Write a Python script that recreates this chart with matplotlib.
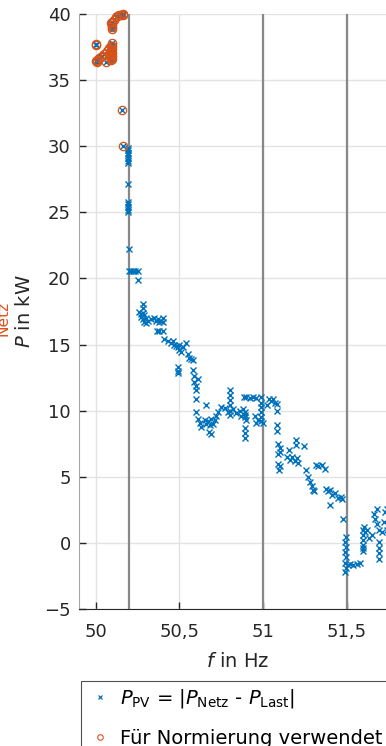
import matplotlib.pyplot as plt
from matplotlib.lines import Line2D
from matplotlib.ticker import FuncFormatter

plt.rcParams['font.family'] = ['DejaVu Sans']
plt.rcParams['mathtext.fontset'] = 'dejavusans'

# points used for normalisation (top of the curve)
norm_f = [50.00, 50.00, 50.00, 50.01, 50.01, 50.02, 50.03, 50.04, 50.05, 50.06,
          50.07, 50.08, 50.08, 50.09, 50.09, 50.09, 50.09, 50.09, 50.10, 50.10,
          50.10, 50.10, 50.10, 50.10, 50.09, 50.08, 50.095, 50.09, 50.095, 50.10,
          50.10, 50.11, 50.12, 50.13, 50.14, 50.15, 50.16, 50.165, 50.155, 50.16]
norm_p = [37.75, 37.65, 36.45, 36.55, 36.40, 36.65, 36.75, 36.85, 37.00, 36.40,
          37.20, 37.40, 37.00, 36.70, 36.90, 37.10, 37.30, 37.55, 37.80, 37.60,
          37.35, 37.05, 36.80, 36.60, 36.55, 36.85, 39.20, 39.30, 38.85, 39.05,
          39.40, 39.55, 39.75, 39.85, 39.90, 39.95, 39.90, 40.00, 32.75, 30.00]

# remaining measured points P_PV over f
rest_f = [50.19, 50.195, 50.19, 50.195, 50.19, 50.19, 50.195, 50.19, 50.19, 50.195,
          50.19, 50.195, 50.19, 50.20, 50.20, 50.21, 50.22, 50.235, 50.25, 50.255,
          50.285, 50.285, 50.26, 50.27, 50.27, 50.28, 50.29, 50.29, 50.30, 50.31,
          50.28, 50.30, 50.33, 50.35, 50.36, 50.37, 50.38, 50.39, 50.40, 50.40,
          50.365, 50.38, 50.40, 50.41, 50.43, 50.45, 50.46, 50.47, 50.48, 50.49,
          50.50, 50.50, 50.51, 50.52, 50.54, 50.55, 50.56, 50.57, 50.58, 50.49,
          50.49, 50.49, 50.58, 50.585, 50.59, 50.60, 50.60, 50.61, 50.60, 50.66,
          50.60, 50.61, 50.62, 50.63, 50.65, 50.66, 50.67, 50.68, 50.69, 50.70,
          50.71, 50.72, 50.73, 50.675, 50.69, 50.75, 50.80, 50.80, 50.80, 50.80,
          50.80, 50.80, 50.77, 50.79, 50.82, 50.84, 50.86, 50.87, 50.89, 50.89,
          50.89, 50.89, 50.89, 50.885, 50.90, 50.92, 50.94, 50.955, 50.88, 50.89,
          50.90, 50.95, 50.97, 50.96, 50.99, 50.99, 50.99, 50.99, 50.99, 50.99,
          51.00, 51.025, 51.035, 51.05, 51.06, 51.07, 51.085, 51.086, 51.086, 51.086,
          51.09, 51.10, 51.10, 51.09, 51.09, 51.10, 51.095, 51.155, 51.14, 51.16,
          51.17, 51.19, 51.20, 51.21, 51.195, 51.195, 51.245, 51.255, 51.315, 51.33,
          51.35, 51.37, 51.27, 51.28, 51.29, 51.30, 51.305, 51.375, 51.39, 51.40,
          51.41, 51.43, 51.445, 51.40, 51.465, 51.47, 51.475, 51.495, 51.49, 51.495,
          51.49, 51.495, 51.49, 51.495, 51.49, 51.505, 51.52, 51.54, 51.56, 51.58,
          51.595, 51.595, 51.595, 51.595, 51.595, 51.595, 51.60, 51.61, 51.62, 51.63,
          51.65, 51.66, 51.67, 51.68, 51.69, 51.71, 51.68, 51.69, 51.69, 51.69,
          51.69, 51.72, 51.73, 51.74, 51.74]
rest_p = [29.9, 29.7, 29.5, 29.3, 29.1, 28.9, 28.7, 27.15, 25.75, 25.6,
          25.4, 25.2, 25.0, 22.2, 20.6, 20.6, 20.6, 20.6, 20.6, 19.85,
          18.1, 17.8, 17.5, 17.3, 17.1, 16.9, 17.2, 16.7, 17.0, 16.8,
          17.4, 16.65, 16.9, 17.0, 16.8, 16.9, 16.7, 16.8, 17.0, 16.7,
          16.0, 16.0, 16.0, 15.4, 15.3, 15.1, 15.3, 15.0, 14.9, 14.8,
          15.0, 14.6, 14.4, 14.8, 15.1, 14.3, 14.0, 13.9, 13.8, 13.3,
          13.0, 12.85, 13.1, 12.6, 12.2, 11.9, 11.6, 12.4, 10.85, 10.45,
          9.9, 9.4, 9.1, 8.8, 9.3, 9.0, 9.2, 8.9, 9.4, 9.0,
          9.3, 9.6, 9.9, 8.4, 8.2, 10.3, 11.6, 11.2, 10.8, 10.4,
          10.0, 9.7, 10.2, 9.9, 10.1, 9.8, 10.0, 9.6, 9.5, 9.9,
          8.7, 8.3, 7.9, 11.0, 11.0, 10.95, 11.0, 10.95, 10.1, 9.7,
          9.3, 9.6, 9.3, 9.1, 11.0, 10.6, 10.3, 9.9, 9.5, 9.2,
          9.1, 10.45, 10.85, 10.7, 10.9, 10.6, 10.5, 9.95, 8.95, 8.45,
          7.45, 7.2, 6.9, 6.75, 6.0, 5.8, 5.55, 7.05, 6.5, 6.3,
          6.5, 6.2, 6.4, 6.05, 7.8, 7.4, 7.3, 5.55, 5.9, 5.8,
          5.9, 5.6, 5.0, 4.6, 4.3, 4.0, 3.9, 4.1, 3.9, 4.0,
          3.6, 3.8, 3.4, 2.85, 3.5, 3.3, 1.8, 0.45, 0.1, -0.3,
          -0.7, -1.1, -1.5, -1.9, -2.2, -1.7, -1.6, -1.7, -1.6, -1.5,
          1.0, 0.6, 0.2, -0.15, -0.4, -0.65, 1.2, 0.8, 1.0, 0.35,
          0.6, 2.2, 1.8, 1.4, 1.0, 0.85, 2.6, 0.1, -0.4, -0.8,
          -1.2, 1.6, 2.3, 2.6, 1.0]

pv_f = norm_f + rest_f
pv_p = norm_p + rest_p

marker_f = [50.2, 51.0, 51.5]
xticks = [50, 50.5, 51, 51.5]
yticks = list(range(-5, 41, 5))

blue = '#0072BD'
orange = '#D95319'
dark = '#262626'
fs_tick = 13
fs = 14

fig = plt.figure(figsize=(3.86, 7.46), dpi=100)
ax = fig.add_axes([79 / 386, 137 / 746, 318 / 386, 595 / 746])

for f in marker_f:
    ax.axvline(f, color='#888888', lw=1.6, zorder=1)

ax.plot(pv_f, pv_p, 'x', color=blue, ms=4.8, mew=1.0, zorder=3, clip_on=False)
ax.plot(norm_f, norm_p, 'o', mfc='none', mec=orange, ms=6, mew=0.9, zorder=4,
        clip_on=False)

ax.set_xlim(49.9, 51.8)
ax.set_ylim(-5, 40)
ax.set_xticks(xticks)
ax.set_yticks(yticks)
ax.xaxis.set_major_formatter(FuncFormatter(lambda v, p: ('%g' % v).replace('.', ',')))
ax.grid(True, color='#e3e3e3', lw=1.0)
ax.set_axisbelow(True)

ax.spines['top'].set_visible(False)
ax.spines['right'].set_visible(False)
ax.spines['left'].set_color('#a6a6a6')
ax.spines['bottom'].set_color(dark)
ax.tick_params(direction='in', length=5, width=1, colors=dark, labelsize=fs_tick)
ax.tick_params(axis='x', pad=10)
ax.tick_params(axis='y', pad=6)

ax.set_xlabel('$f$ in Hz', fontsize=fs, color=dark, labelpad=8)
ax.set_ylabel('$P$ in kW', fontsize=fs, color=dark, labelpad=7)

# second axis label P_Netz in kW, mostly outside the left edge
fig.text(-11 / 386, 1 - 362 / 746, '$P$', rotation=90, color=orange, fontsize=fs,
         ha='center', va='bottom')
fig.text(3 / 386, 1 - 336 / 746, 'Netz', rotation=90, color=orange, fontsize=fs * 0.8,
         ha='center', va='bottom')
fig.text(-11 / 386, 1 - 294 / 746, ' in kW', rotation=90, color=orange, fontsize=fs,
         ha='center', va='bottom')

handles = [
    Line2D([], [], ls='none', marker='x', color=blue, ms=3.5, mew=0.9),
    Line2D([], [], ls='none', marker='o', mfc='none', mec=orange, ms=4, mew=0.8),
]
labels = [r'$P_{\mathrm{PV}}$ = |$P_{\mathrm{Netz}}$ - $P_{\mathrm{Last}}$|',
          'Für Normierung verwendet']
leg = fig.legend(handles, labels, loc='upper left',
                 bbox_to_anchor=(81 / 386, 1 - 681 / 746), borderaxespad=0,
                 fontsize=fs, frameon=True, fancybox=False, handlelength=1.4,
                 handletextpad=0.3, labelspacing=1.0, borderpad=0.3)
leg.get_frame().set_edgecolor(dark)
leg.get_frame().set_linewidth(0.8)

fig.savefig('out.png', dpi=100)
